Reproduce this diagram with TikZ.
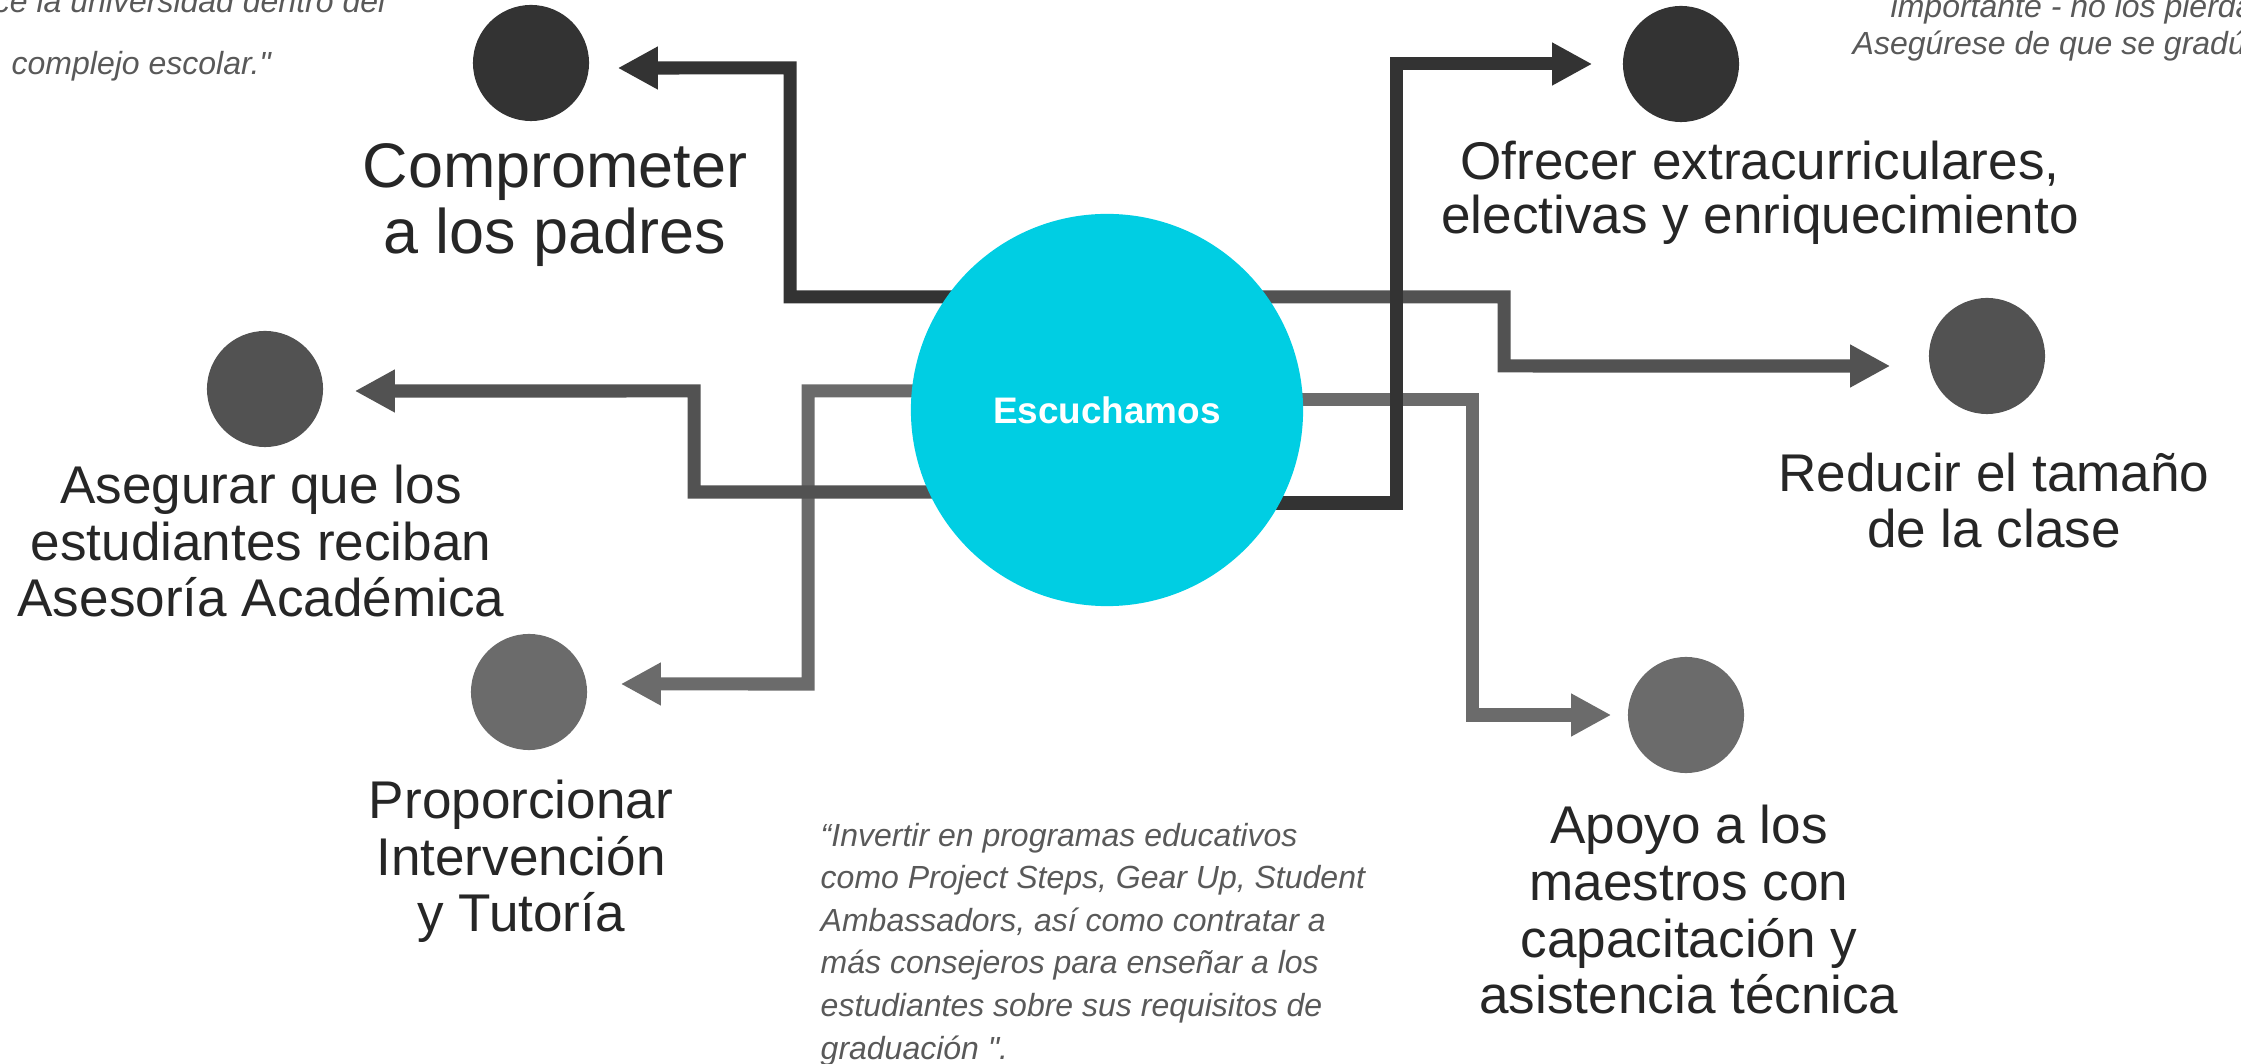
\documentclass[tikz,border=0pt]{standalone}
\usepackage{fontspec}
\setmainfont{Liberation Sans}
\newfontfamily\quotefont{Liberation Sans}
\usetikzlibrary{arrows.meta,backgrounds}
\definecolor{hubcyan}{HTML}{00CEE3}
\definecolor{greyA}{HTML}{333333}
\definecolor{greyB}{HTML}{525252}
\definecolor{greyC}{HTML}{6B6B6B}
\definecolor{labeltext}{HTML}{262626}
\definecolor{quotetext}{HTML}{595959}

\begin{document}
\begin{tikzpicture}[x=0.01cm,y=-0.01cm,
		spot/.style={circle,minimum size=1.16cm,inner sep=0},
		flow/.style={line width=0.13cm,-{Triangle[length=0.4cm,width=0.4cm]}},
		goal/.style={align=center,inner sep=0,anchor=base,text=labeltext,font=\fontsize{15.1}{16.2}\selectfont},
		quotetxt/.style={inner sep=0,text=quotetext,font=\quotefont\fontsize{9.1}{12.1}\selectfont\itshape}]
		\path[use as bounding box,clip] (0,0) rectangle (2241,1064);
		%centro
		\node[circle,fill=hubcyan,minimum size=3.92cm,inner sep=0,text=white,font=\fontsize{10.5}{12}\selectfont\bfseries] (hub) at (1107,410) {Escuchamos};
		%puntos
		\node[spot,fill=greyA] (d1) at (531,63) {};
		\node[spot,fill=greyA] (d2) at (1681,64) {};
		\node[spot,fill=greyB] (d3) at (265,389) {};
		\node[spot,fill=greyB] (d4) at (1987,356) {};
		\node[spot,fill=greyC] (d5) at (529,692) {};
		\node[spot,fill=greyC] (d6) at (1686,715) {};
		%flechas
		\begin{scope}[on background layer]
		\draw[flow,greyC] (hub |- 0,391) -| (808,684) -- ([xshift=0.33cm,yshift=0.08cm]d5.east);
		\draw[flow,greyC] (hub |- 0,400) -| (1472,715) -- ([xshift=-0.16cm]d6.west);
		\draw[flow,greyB] (hub |- 0,492) -| (694,391) -- ([xshift=0.31cm,yshift=-0.02cm]d3.east);
		\draw[flow,greyB] (hub |- 0,297) -| (1504,366) -- ([xshift=-0.38cm,yshift=-0.1cm]d4.west);
		\draw[flow,greyA] (hub |- 0,297) -| (790,68) -- ([xshift=0.28cm,yshift=-0.05cm]d1.east);
		\draw[flow,greyA] (hub |- 0,503) -| (1396,64) -- ([xshift=-0.3cm]d2.west);
		\end{scope}
		%textos (base = ultima linea)
		\node[goal,font=\fontsize{17.9}{18.8}\selectfont] (t1) at (555,254) {Comprometer\\a los padres};
		\node[goal,font=\fontsize{15.1}{15.6}\selectfont] (t2) at (1760,234) {Ofrecer extracurriculares,\\electivas y enriquecimiento};
		\node[goal] (t3) at (261,617) {Asegurar que los\\estudiantes reciban\\Asesoría Académica};
		\node[goal] (t4) at (1994,548) {Reducir el tamaño\\de la clase};
		\node[goal] (t5) at (521,932) {Proporcionar\\Intervención\\y Tutoría};
		\node[goal] (t6) at (1689,1014) {Apoyo a los\\maestros con\\capacitación y\\asistencia técnica};
		%citas
		\node[quotetxt,anchor=base east] (qa1) at (386,13) {ce la universidad dentro del};
		\node[quotetxt,anchor=base west] (qa2) at (11,75) {complejo escolar."};
		\node[quotetxt,anchor=base west] (qb1) at (1890,18) {importante - no los pierda};
		\node[quotetxt,anchor=base west] (qb2) at (1852,55) {Asegúrese de que se gradú};
		\node[quotetxt,anchor=base west,align=left] (qc) at (820,1059) {“Invertir en programas educativos\\como Project Steps, Gear Up, Student\\Ambassadors, así como contratar a\\más consejeros para enseñar a los\\estudiantes sobre sus requisitos de\\graduación ".};
	\end{tikzpicture}
\end{document}
